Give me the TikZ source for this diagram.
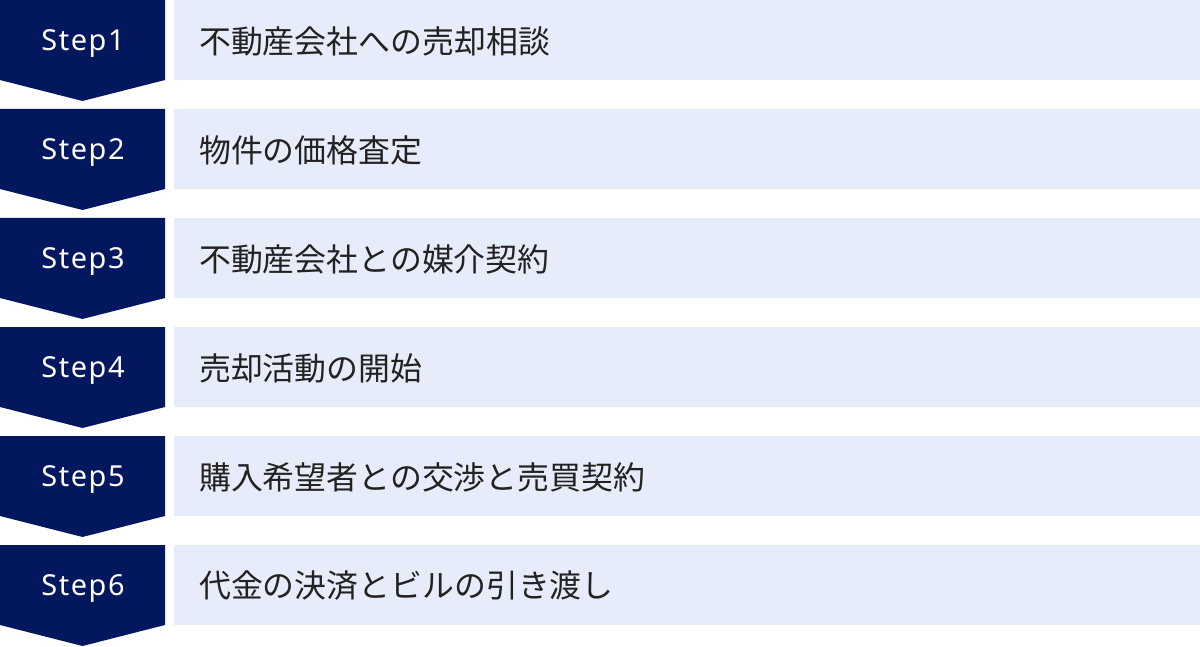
\documentclass[tikz,border=0pt]{standalone}
\usepackage{fontspec}
\setmainfont{Noto Sans}
\newfontfamily\cjk{Noto Sans CJK JP}
\newfontfamily\stepfont[LetterSpace=5.5]{Noto Sans}
\definecolor{navy}{RGB}{3,23,95}
\definecolor{lightbox}{RGB}{230,236,249}
\definecolor{textdark}{RGB}{34,34,34}
\begin{document}
\begin{tikzpicture}[x=1bp,y=-1bp,
  badge/.style={fill=navy,draw=none},
  panel/.style={fill=lightbox,draw=none},
  steplabel/.style={text=white,font=\stepfont\fontsize{29}{32}\selectfont,anchor=center,inner sep=0},
  tasklabel/.style={text=textdark,font=\cjk\fontsize{32}{36}\selectfont,anchor=west,inner sep=0}]
\useasboundingbox (0,0) rectangle (1200,647);
\foreach \i/\t in {1/不動産会社への売却相談,2/物件の価格査定,3/不動産会社との媒介契約,4/売却活動の開始,5/購入希望者との交渉と売買契約,6/代金の決済とビルの引き渡し}{
  \pgfmathsetmacro{\y}{(\i-1)*109}
  \fill[badge] (0,\y) -- (165,\y) -- (165,\y+80) -- (82.5,\y+101) -- (0,\y+80) -- cycle;
  \fill[panel] (174,\y) rectangle (1200,\y+80);
  \node[steplabel] (s\i) at (83,\y+44) {Step\i};
  \node[tasklabel] (t\i) at (199,\y+41) {\t};
}
\end{tikzpicture}
\end{document}
